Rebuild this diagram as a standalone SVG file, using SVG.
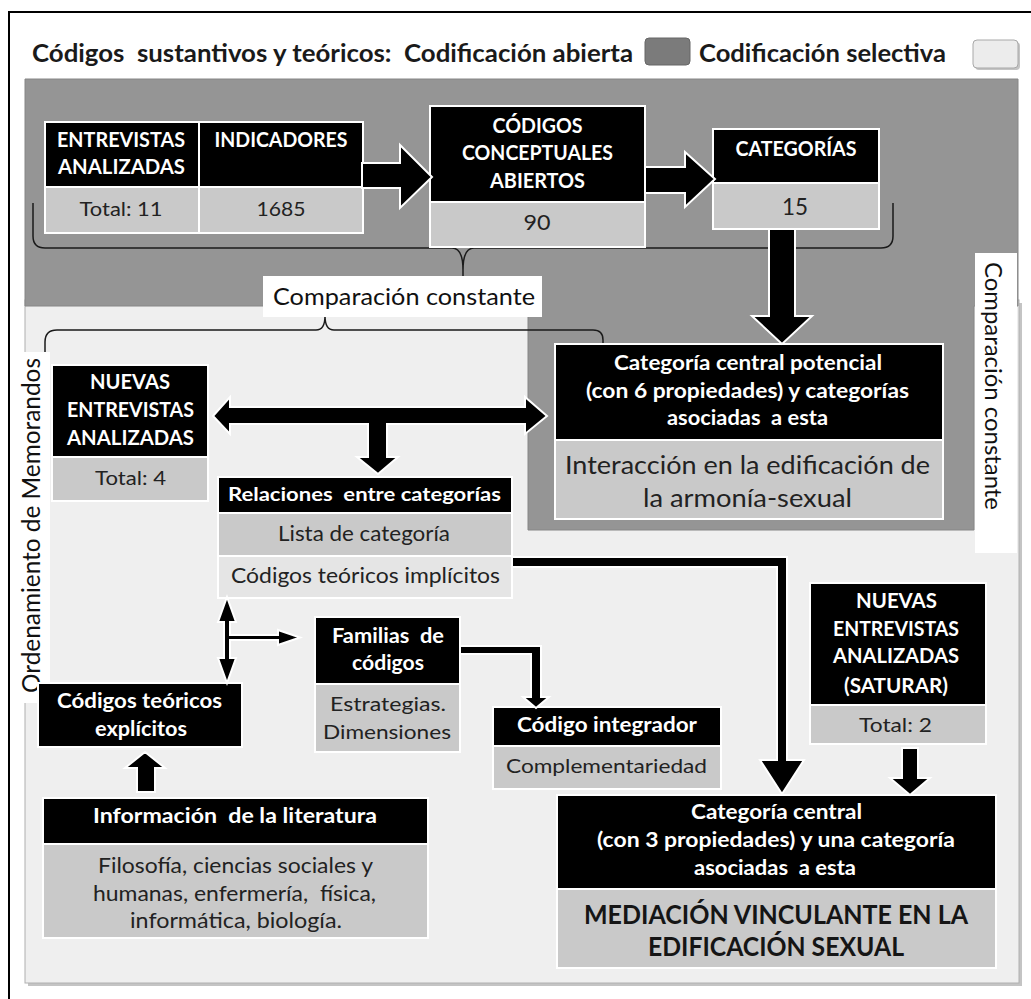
<svg xmlns="http://www.w3.org/2000/svg" width="1031" height="999" viewBox="0 0 1031 999">
<style>
.hdr{fill:#000;stroke:#fff;stroke-width:2}
.cell{fill:#c9c9c9;stroke:#fff;stroke-width:2}
.cell2{fill:#e5e5e5;stroke:#fff;stroke-width:2}
text{font-family:Lato,"Liberation Sans",sans-serif}
.tw{font-weight:bold;fill:#fff;text-anchor:middle}
.tg{fill:#222;text-anchor:middle}
.arr{fill:#000;stroke:#fff;stroke-width:2;stroke-linejoin:miter}
.brace{fill:none;stroke:#1a1a1a;stroke-width:1.5}
.lbl{fill:#fff}
.lt{fill:#111;text-anchor:middle}
</style>
<rect x="0" y="0" width="1031" height="999" fill="#fff"/>
<path d="M9,1005 V12 H1034" fill="none" stroke="#000" stroke-width="2"/>

<g id="legend">
<text x="32" y="62" font-size="24.5" font-weight="bold" fill="#1a1a1a" textLength="601" lengthAdjust="spacingAndGlyphs" xml:space="preserve">Códigos  sustantivos y teóricos:  Codificación abierta</text>
<rect x="645" y="38" width="45" height="27" rx="4" fill="#7b7b7b" stroke="#666"/>
<text x="699" y="62" font-size="24.5" font-weight="bold" fill="#1a1a1a" textLength="247" lengthAdjust="spacingAndGlyphs">Codificación selectiva</text>
<rect x="975" y="42" width="45" height="28" rx="4" fill="#c4c4c4"/>
<rect x="973" y="40" width="45" height="28" rx="4" fill="#ececec" stroke="#a8a8a8"/>
</g>

<g id="regions">
<rect x="28" y="303" width="994" height="683" fill="#c4c4c4"/>
<rect x="25" y="300" width="994" height="683" fill="#efefef" stroke="#b0b0b0"/>
<polygon points="25,79 1018,79 1018,306 974,306 974,530 528,530 528,306 25,306" fill="#959595" stroke="#868686"/>
</g>

<g id="braces">
<path class="brace" d="M33,203 V236 Q33,248 45,248 H452 Q463,248 463,270 Q463,248 474,248 H881 Q893,248 893,236 V203 M463,270 V278"/>
<path class="brace" d="M45,353 V342 Q45,330 57,330 H316 Q325,330 325,316 Q325,330 334,330 H593 Q603,330 603,340 V345 M325,316 V308"/>
</g>

<g id="label-comparacion-h">
<rect class="lbl" x="263" y="276" width="279" height="41"/>
<text class="lt" x="404" y="305" font-size="23" textLength="262" lengthAdjust="spacingAndGlyphs">Comparación constante</text>
</g>
<g id="label-comparacion-v">
<rect class="lbl" x="975" y="253" width="42" height="300"/>
<text class="lt" transform="translate(985,386) rotate(90)" x="0" y="0" font-size="23.5" textLength="248" lengthAdjust="spacingAndGlyphs">Comparación constante</text>
</g>
<g id="label-ordenamiento">
<rect class="lbl" x="12" y="352" width="38" height="351"/>
<text class="lt" transform="translate(40,525.5) rotate(-90)" x="0" y="0" font-size="25" textLength="335" lengthAdjust="spacingAndGlyphs">Ordenamiento de Memorandos</text>
</g>

<g id="node-entrevistas">
<rect class="hdr" x="45" y="122" width="318" height="65"/>
<rect class="cell" x="45" y="187" width="318" height="46"/>
<line x1="199" y1="122" x2="199" y2="233" stroke="#fff" stroke-width="2"/>
<text class="tw" x="121" y="147" font-size="20.5" textLength="128" lengthAdjust="spacingAndGlyphs">ENTREVISTAS</text>
<text class="tw" x="121.5" y="174" font-size="20.5" textLength="127" lengthAdjust="spacingAndGlyphs">ANALIZADAS</text>
<text class="tw" x="281" y="147" font-size="20.5" textLength="133" lengthAdjust="spacingAndGlyphs">INDICADORES</text>
<text class="tg" x="121" y="216" font-size="19.5" textLength="83" lengthAdjust="spacingAndGlyphs">Total: 11</text>
<text class="tg" x="281" y="216" font-size="19.5" textLength="49" lengthAdjust="spacingAndGlyphs">1685</text>
</g>

<g id="node-codigos">
<rect class="hdr" x="430" y="106" width="215" height="96"/>
<rect class="cell" x="430" y="202" width="215" height="45"/>
<text class="tw" x="537.5" y="133" font-size="20.5" textLength="90" lengthAdjust="spacingAndGlyphs">CÓDIGOS</text>
<text class="tw" x="537.5" y="160" font-size="20.5" textLength="151" lengthAdjust="spacingAndGlyphs">CONCEPTUALES</text>
<text class="tw" x="537.5" y="188" font-size="20.5" textLength="95" lengthAdjust="spacingAndGlyphs">ABIERTOS</text>
<text class="tg" x="537" y="230" font-size="20.5" textLength="27" lengthAdjust="spacingAndGlyphs">90</text>
</g>

<g id="node-categorias">
<rect class="hdr" x="713" y="129" width="166" height="54"/>
<rect class="cell" x="713" y="183" width="166" height="46"/>
<text class="tw" x="796" y="156" font-size="20.5" textLength="121" lengthAdjust="spacingAndGlyphs">CATEGORÍAS</text>
<text class="tg" x="795" y="215" font-size="22.5" textLength="26" lengthAdjust="spacingAndGlyphs">15</text>
</g>

<g id="node-nuevas">
<rect class="hdr" x="52" y="365" width="156" height="92"/>
<rect class="cell" x="52" y="457" width="156" height="44"/>
<text class="tw" x="130" y="389" font-size="20.5" textLength="80" lengthAdjust="spacingAndGlyphs">NUEVAS</text>
<text class="tw" x="130.5" y="417" font-size="20.5" textLength="127" lengthAdjust="spacingAndGlyphs">ENTREVISTAS</text>
<text class="tw" x="130.5" y="445" font-size="20.5" textLength="127" lengthAdjust="spacingAndGlyphs">ANALIZADAS</text>
<text class="tg" x="130.5" y="485" font-size="19.5" textLength="71" lengthAdjust="spacingAndGlyphs">Total: 4</text>
</g>

<g id="node-relaciones">
<rect class="hdr" x="218" y="477" width="294" height="36"/>
<rect class="cell" x="218" y="513" width="294" height="43"/>
<rect class="cell2" x="218" y="556" width="294" height="42"/>
<text class="tw" x="364.5" y="501" font-size="19" textLength="273" lengthAdjust="spacingAndGlyphs" xml:space="preserve">Relaciones  entre categorías</text>
<text class="tg" x="364" y="541" font-size="20.5" textLength="172" lengthAdjust="spacingAndGlyphs">Lista de categoría</text>
<text class="tg" x="365.5" y="583" font-size="20.5" textLength="269" lengthAdjust="spacingAndGlyphs">Códigos teóricos implícitos</text>
</g>

<g id="node-central-potencial">
<rect class="hdr" x="555" y="344" width="388" height="96"/>
<rect class="cell" x="555" y="440" width="388" height="79"/>
<text class="tw" x="748" y="370" font-size="21" textLength="268" lengthAdjust="spacingAndGlyphs">Categoría central potencial</text>
<text class="tw" x="747.5" y="398" font-size="21" textLength="323" lengthAdjust="spacingAndGlyphs">(con 6 propiedades) y categorías</text>
<text class="tw" x="747.5" y="425" font-size="21" textLength="161" lengthAdjust="spacingAndGlyphs" xml:space="preserve">asociadas  a esta</text>
<text class="tg" x="747.5" y="474" font-size="25" textLength="365" lengthAdjust="spacingAndGlyphs">Interacción en la edificación de</text>
<text class="tg" x="747.5" y="507" font-size="25" textLength="209" lengthAdjust="spacingAndGlyphs">la armonía-sexual</text>
</g>

<g id="node-familias">
<rect class="hdr" x="315" y="617" width="145" height="67"/>
<rect class="cell" x="315" y="684" width="145" height="68"/>
<text class="tw" x="388" y="643" font-size="21.5" textLength="112" lengthAdjust="spacingAndGlyphs" xml:space="preserve">Familias  de</text>
<text class="tw" x="388" y="670" font-size="21.5" textLength="72" lengthAdjust="spacingAndGlyphs">códigos</text>
<text class="tg" x="388" y="711" font-size="19.5" textLength="116" lengthAdjust="spacingAndGlyphs">Estrategias.</text>
<text class="tg" x="387" y="739" font-size="19.5" textLength="128" lengthAdjust="spacingAndGlyphs">Dimensiones</text>
</g>

<g id="node-explicitos">
<rect class="hdr" x="38" y="683" width="204" height="64"/>
<text class="tw" x="139.5" y="708" font-size="21.5" textLength="165" lengthAdjust="spacingAndGlyphs">Códigos teóricos</text>
<text class="tw" x="141" y="736" font-size="21.5" textLength="92" lengthAdjust="spacingAndGlyphs">explícitos</text>
</g>

<g id="node-informacion">
<rect class="hdr" x="43" y="798" width="385" height="46"/>
<rect class="cell" x="43" y="844" width="385" height="94"/>
<text class="tw" x="235" y="823" font-size="20.5" textLength="284" lengthAdjust="spacingAndGlyphs" xml:space="preserve">Información  de la literatura</text>
<text class="tg" x="235.5" y="873" font-size="20.5" textLength="275" lengthAdjust="spacingAndGlyphs">Filosofía, ciencias sociales y</text>
<text class="tg" x="234.5" y="901" font-size="20.5" textLength="283" lengthAdjust="spacingAndGlyphs" xml:space="preserve">humanas, enfermería,  física,</text>
<text class="tg" x="236" y="928" font-size="20.5" textLength="212" lengthAdjust="spacingAndGlyphs">informática, biología.</text>
</g>

<g id="node-integrador">
<rect class="hdr" x="493" y="707" width="228" height="39"/>
<rect class="cell" x="493" y="746" width="228" height="43"/>
<text class="tw" x="607" y="732" font-size="20.5" textLength="180" lengthAdjust="spacingAndGlyphs">Código integrador</text>
<text class="tg" x="606.5" y="773" font-size="20" textLength="201" lengthAdjust="spacingAndGlyphs">Complementariedad</text>
</g>

<g id="node-saturar">
<rect class="hdr" x="810" y="583" width="176" height="122"/>
<rect class="cell" x="810" y="705" width="176" height="39"/>
<text class="tw" x="896.5" y="608" font-size="20.5" textLength="81" lengthAdjust="spacingAndGlyphs">NUEVAS</text>
<text class="tw" x="896" y="636" font-size="20.5" textLength="126" lengthAdjust="spacingAndGlyphs">ENTREVISTAS</text>
<text class="tw" x="896" y="663" font-size="20.5" textLength="126" lengthAdjust="spacingAndGlyphs">ANALIZADAS</text>
<text class="tw" x="896" y="693" font-size="20.5" textLength="104" lengthAdjust="spacingAndGlyphs">(SATURAR)</text>
<text class="tg" x="895.5" y="732" font-size="20" textLength="73" lengthAdjust="spacingAndGlyphs">Total: 2</text>
</g>

<g id="node-central">
<rect class="hdr" x="557" y="795" width="439" height="94"/>
<rect class="cell" x="557" y="889" width="439" height="79"/>
<text class="tw" x="776.5" y="819" font-size="20.5" textLength="171" lengthAdjust="spacingAndGlyphs">Categoría central</text>
<text class="tw" x="776" y="847" font-size="20.5" textLength="358" lengthAdjust="spacingAndGlyphs">(con 3 propiedades) y una categoría</text>
<text class="tw" x="775" y="875" font-size="20.5" textLength="162" lengthAdjust="spacingAndGlyphs" xml:space="preserve">asociadas  a esta</text>
<text x="776" y="924" font-size="27" font-weight="bold" fill="#151515" text-anchor="middle" textLength="384" lengthAdjust="spacingAndGlyphs">MEDIACIÓN VINCULANTE EN LA</text>
<text x="776" y="956" font-size="27" font-weight="bold" fill="#151515" text-anchor="middle" textLength="256" lengthAdjust="spacingAndGlyphs">EDIFICACIÓN SEXUAL</text>
</g>

<g id="connectors">
<polygon class="arr" points="362,163 400,163 400,145 432,177 400,208 400,188 362,188"/>
<polygon class="arr" points="645,167 685,167 685,152 715,179 685,207 685,193 645,193"/>
<polygon class="arr" points="769,229 795,229 795,316 812,316 782,344 752,316 769,316"/>
<polygon class="arr" points="213,416 230,397 230,407 525,407 525,397 547,416 525,434 525,424 387,424 387,457 398,457 378,474 357,457 368,457 368,424 230,424 230,434"/>
<polygon class="arr" points="512,557 787,557 787,760 804,760 782,794 760,760 777,760 777,567 512,567"/>
<polygon class="arr" points="460,646 541,646 541,697 549,697 536,708 523,697 531,697 531,654 460,654"/>
<polygon class="arr" points="902,748 918,748 918,778 930,778 910,795 890,778 902,778"/>
<polygon class="arr" points="137,792 137,768 125,768 145,752 165,768 155,768 155,792"/>
<polygon class="arr" points="227,597 236,622 230,622 230,635 278,635 278,630 300,637.5 278,645 278,640 230,640 230,658 236,658 227,683 218,658 224,658 224,622 218,622"/>
</g>
</svg>
